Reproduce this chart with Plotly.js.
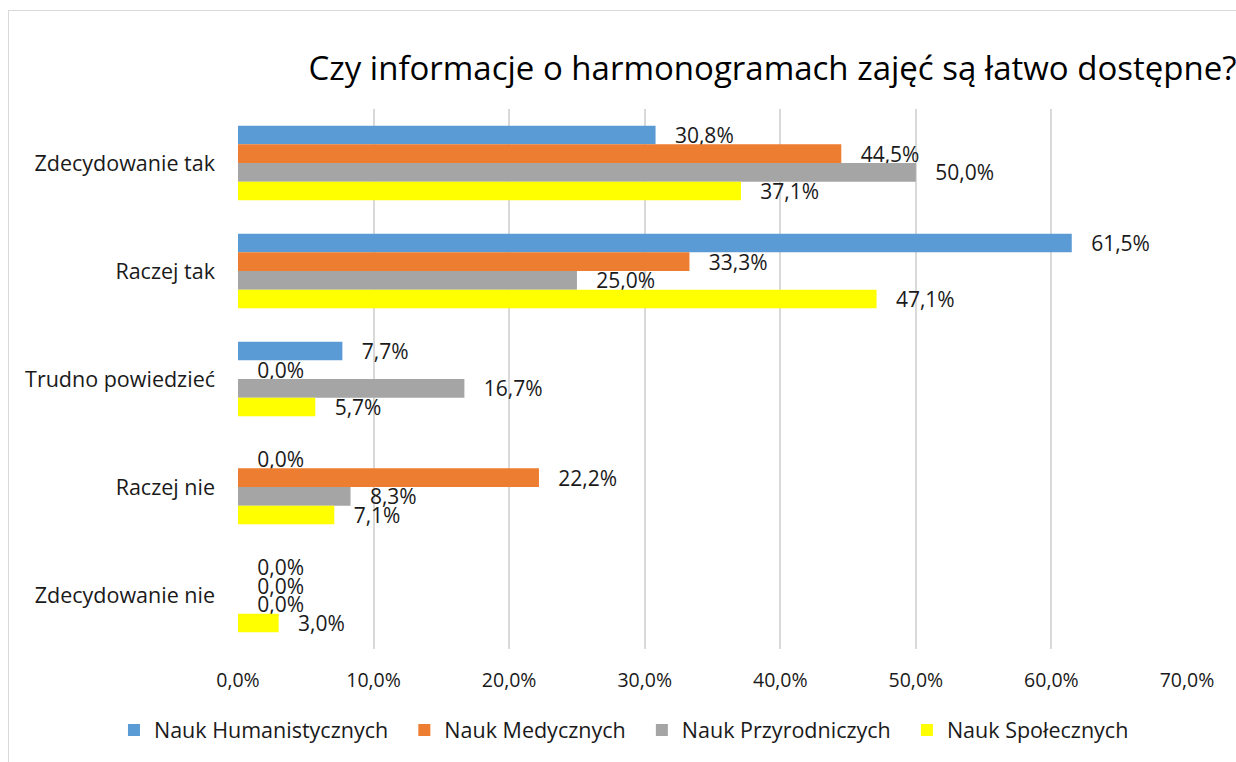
<!DOCTYPE html>
<html>
<head>
<meta charset="utf-8">
<script src="https://cdn.plot.ly/plotly-3.0.1.min.js"></script>
<style>
  html, body { margin: 0; padding: 0; overflow: hidden; background: #fff; }
  #chart { width: 1236px; height: 762px; }
  #frame { position: absolute; left: 8px; top: 10px; width: 1260px; height: 800px; border: 1px solid #d9d9d9; pointer-events: none; }
</style>
</head>
<body>
<div id="chart"></div>
<div id="frame"></div>
<script>
const categories = ["Zdecydowanie tak", "Raczej tak", "Trudno powiedzieć", "Raczej nie", "Zdecydowanie nie"];
const seriesNames = ["Nauk Humanistycznych", "Nauk Medycznych", "Nauk Przyrodniczych", "Nauk Społecznych"];
const humanistycznych = [30.8, 61.5, 7.7, 0.0, 0.0];
const medycznych = [44.5, 33.3, 0.0, 22.2, 0.0];
const przyrodniczych = [50.0, 25.0, 16.7, 8.3, 0.0];
const spolecznych = [37.1, 47.1, 5.7, 7.1, 3.0];
const xTickVals = [0, 10, 20, 30, 40, 50, 60, 70];
const xTickText = ["0,0%", "10,0%", "20,0%", "30,0%", "40,0%", "50,0%", "60,0%", "70,0%"];
const titleText = "Czy informacje o harmonogramach zajęć są łatwo dostępne?";

const colors = ["#5B9BD5", "#ED7D31", "#A5A5A5", "#FFFF00"];
const allSeries = [humanistycznych, medycznych, przyrodniczych, spolecznych];
const font = "'Open Sans', 'Noto Sans', sans-serif";
const pad = "\u00a0\u00a0\u00a0";

const traces = allSeries.map((vals, i) => ({
  type: "bar",
  orientation: "h",
  name: seriesNames[i] + "\u00a0\u00a0",
  y: categories,
  x: vals,
  marker: { color: colors[i], line: { width: 0 } },
  text: vals.map(v => pad + v.toFixed(1).replace(".", ",") + "%"),
  texttemplate: "%{text}",
  textposition: "outside",
  constraintext: "none",
  cliponaxis: false,
  textfont: { family: font, size: 21, color: "#1a1a1a" },
  hoverinfo: "name+x"
}));

const layout = {
  width: 1236,
  height: 762,
  paper_bgcolor: "#ffffff",
  plot_bgcolor: "#ffffff",
  separators: ",.",
  margin: { l: 238, r: 49, t: 109, b: 113, pad: 0 },
  title: {
    text: titleText,
    font: { family: font, size: 33, color: "#000000" },
    x: 0.625, xanchor: "center", xref: "container",
    y: 0.91, yanchor: "middle", yref: "container"
  },
  barmode: "group",
  bargap: 0.31,
  bargroupgap: 0,
  showlegend: true,
  legend: {
    orientation: "h",
    xref: "paper", x: -0.1307, xanchor: "left",
    yref: "paper", y: -0.15, yanchor: "middle",
    traceorder: "normal",
    itemwidth: 30,
    font: { family: font, size: 21.5, color: "#1a1a1a" },
    itemclick: false
  },
  xaxis: {
    range: [0, 70],
    tickvals: xTickVals,
    ticktext: xTickText,
    showgrid: true,
    gridcolor: "#d9d9d9",
    gridwidth: 1.5,
    zeroline: false,
    showline: false,
    ticks: "",
    ticklabelstandoff: 17,
    tickfont: { family: font, size: 19.5, color: "#1a1a1a" },
    fixedrange: true
  },
  yaxis: {
    type: "category",
    autorange: "reversed",
    showgrid: false,
    zeroline: false,
    showline: false,
    ticks: "",
    ticklabelstandoff: 22,
    tickfont: { family: font, size: 21.5, color: "#1a1a1a" },
    fixedrange: true
  }
};

Plotly.newPlot("chart", traces, layout, { displayModeBar: false });
</script>
</body>
</html>
